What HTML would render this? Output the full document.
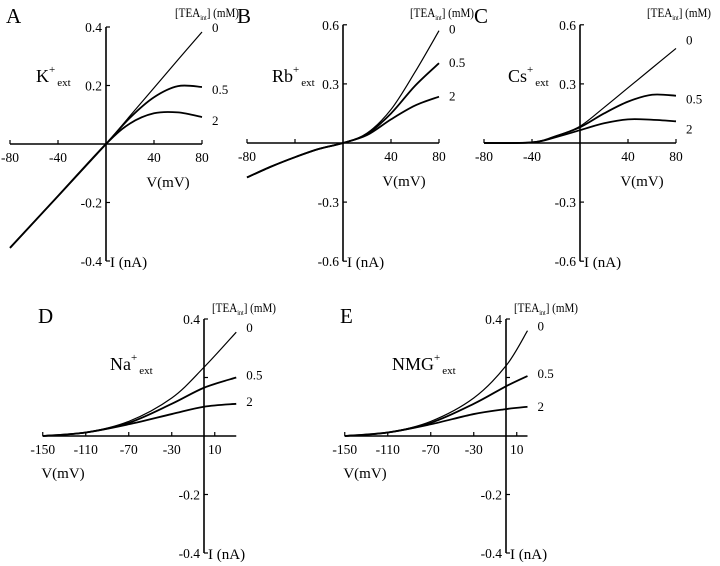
<!DOCTYPE html>
<html><head><meta charset="utf-8"><style>
body{margin:0;background:#fff}
svg{display:block;font-family:"Liberation Serif",serif}
</style></head><body>
<svg id="fig" width="720" height="566" viewBox="0 0 720 566" xmlns="http://www.w3.org/2000/svg"></svg>
<script>
// Voltage samples (mV) and current (nA) per panel / TEA concentration
const vA = [-80,-40,0,20,40,60,80];
const iA0 = [-0.355,-0.178,0,0.096,0.192,0.288,0.383];
const iA05 = [-0.355,-0.178,0,0.09,0.16,0.198,0.195];
const iA2 = [-0.355,-0.178,0,0.07,0.105,0.108,0.092];
const vB = [-80,-60,-40,-20,0,20,40,60,80];
const iB0 = [-0.175,-0.12,-0.072,-0.03,0,0.05,0.17,0.36,0.57];
const iB05 = [-0.175,-0.12,-0.072,-0.03,0,0.045,0.15,0.29,0.405];
const iB2 = [-0.175,-0.12,-0.072,-0.03,0,0.04,0.12,0.19,0.235];
const vC = [-80,-40,-20,0,20,40,60,80];
const iC0 = [0,0.003,0.035,0.085,0.18,0.28,0.38,0.48];
const iC05 = [0,0.003,0.035,0.08,0.15,0.21,0.245,0.24];
const iC2 = [0,0.003,0.03,0.065,0.1,0.12,0.118,0.11];
const vD = [-150,-110,-70,-30,0,30];
const iD0 = [0,0.012,0.05,0.13,0.235,0.355];
const iD05 = [0,0.012,0.045,0.11,0.165,0.2];
const iD2 = [0,0.012,0.04,0.075,0.1,0.11];
const vE = [-150,-110,-70,-30,0,20];
const iE0 = [0,0.012,0.05,0.13,0.24,0.36];
const iE05 = [0,0.012,0.045,0.11,0.17,0.205];
const iE2 = [0,0.012,0.04,0.075,0.092,0.1];
const tickA = [-80,-40,40,80];
const tickD = [-150,-110,-70,-30,10];

const NS="http://www.w3.org/2000/svg";
const svg=document.getElementById('fig');
function mk(tag,attrs,parent){const e=document.createElementNS(NS,tag);for(const k in attrs)e.setAttribute(k,attrs[k]);(parent||svg).appendChild(e);return e;}
function txt(x,y,s,size,anchor,parent){const t=mk('text',{x:x,y:y,'font-size':size,'text-anchor':anchor||'middle',fill:'#000'},parent);t.textContent=s;return t;}

function panel(p){
  const g=mk('g',{});
  
  
  const sx=v=>p.x0+v*p.kx, sy=i=>p.y0-i*p.ky;
  const xa=mk('line',{x1:sx(p.vmin),x2:sx(p.vmax),y1:p.y0,y2:p.y0,stroke:'#000','stroke-width':1.6},g);
  
  
  p.xt.forEach(v=>{mk('line',{x1:sx(v),x2:sx(v),y1:p.y0,y2:p.y0-4,stroke:'#000','stroke-width':1.2},g);
    if(p.hideX && p.hideX.includes(v)) return;
    const t=txt(sx(v),p.y0+p.xly,String(v),13.5,'middle',g);
    
    });
  const ya=mk('line',{x1:p.x0,x2:p.x0,y1:sy(p.ymax),y2:sy(-p.ymax),stroke:'#000','stroke-width':1.6},g);
  
  
  p.yt.forEach(i=>{mk('line',{x1:p.x0,x2:p.x0+4,y1:sy(i),y2:sy(i),stroke:'#000','stroke-width':1.2},g);
    if(p.yl.includes(i)){const t=txt(p.x0-4,sy(i)+5,String(i),13.5,'end',g);
    
    }});
  p.series.forEach((s,k)=>{
    const pts=s.i.map((c,j)=>[sx(s.v[j]),sy(c)]);
    let d='M'+pts[0][0]+','+pts[0][1];
    for(let j=0;j<pts.length-1;j++){const p0=pts[Math.max(0,j-1)],p1=pts[j],p2=pts[j+1],p3=pts[Math.min(pts.length-1,j+2)];
      d+=' C'+(p1[0]+(p2[0]-p0[0])/6)+','+(p1[1]+(p2[1]-p0[1])/6)+' '+(p2[0]-(p3[0]-p1[0])/6)+','+(p2[1]-(p3[1]-p1[1])/6)+' '+p2[0]+','+p2[1];}
    const path=mk('path',{d:d,fill:'none',stroke:'#000','stroke-width':k==0?1.2:1.8},g);
    
    
    const last=pts[pts.length-1];
    const lb=txt(last[0]+p.lx,last[1]+p.ldy[k],s.name,13,'start',g);
    
    
  });
  const L=txt(p.lx0,p.ly0,p.id,21,'start',g);
  
  
  const ion=mk('text',{x:p.ix,y:p.iy,'font-size':18,fill:'#000'},g);
  ion.innerHTML=p.ion+'<tspan dy="-9" font-size="11">+</tspan><tspan dy="13" dx="2" font-size="11">ext</tspan>';
  
  
  const tea=mk('text',{x:p.tx,y:p.ty,'font-size':12.5,fill:'#000',textLength:64,lengthAdjust:'spacingAndGlyphs'},g);
  tea.innerHTML='[TEA<tspan dy="3" font-size="7">int</tspan><tspan dy="-3">] (mM)</tspan>';
  
  
  const vx=txt(p.vx,p.vy,'V(mV)',15,'middle',g);
  
  
  const iy=txt(p.x0+4,sy(-p.ymax)+6,'I (nA)',15,'start',g);
  
  
}
const common={vmin:-80,vmax:80,xt:tickA,xly:18,lx:10};
panel(Object.assign({},common,{id:'A',x0:106,y0:144,kx:1.2,ky:292.5,ymax:0.4,yt:[0.4,0.2,-0.2,-0.4],yl:[0.4,0.2,-0.2,-0.4],
  series:[{v:vA,i:iA0,name:'0'},{v:vA,i:iA05,name:'0.5'},{v:vA,i:iA2,name:'2'}],ldy:[0,7,8],
  lx0:6,ly0:23,ix:36,iy:82,ion:'K',tx:175,ty:17,vx:168,vy:187}));
panel(Object.assign({},common,{id:'B',x0:343,y0:143,kx:1.2,ky:197,ymax:0.6,yt:[0.6,0.3,-0.3,-0.6],yl:[0.6,0.3,-0.3,-0.6],hideX:[-40],
  series:[{v:vB,i:iB0,name:'0'},{v:vB,i:iB05,name:'0.5'},{v:vB,i:iB2,name:'2'}],ldy:[3,4,4],
  lx0:237,ly0:23,ix:272,iy:82,ion:'Rb',tx:410,ty:17,vx:404,vy:186}));
panel(Object.assign({},common,{id:'C',x0:580,y0:143,kx:1.2,ky:197,ymax:0.6,yt:[0.6,0.3,-0.3,-0.6],yl:[0.6,0.3,-0.3,-0.6],
  series:[{v:vC,i:iC0,name:'0'},{v:vC,i:iC05,name:'0.5'},{v:vC,i:iC2,name:'2'}],ldy:[-4,8,12],
  lx0:474,ly0:23,ix:508,iy:82,ion:'Cs',tx:647,ty:17,vx:642,vy:186}));
const c2={vmin:-150,xt:tickD,xly:18,lx:10,ymax:0.4,yt:[0.4,0.2,-0.2,-0.4],yl:[0.4,-0.2,-0.4],kx:1.075,ky:292.5,y0:436};
panel(Object.assign({},c2,{id:'D',x0:204,vmax:30,
  series:[{v:vD,i:iD0,name:'0'},{v:vD,i:iD05,name:'0.5'},{v:vD,i:iD2,name:'2'}],ldy:[0,2,2],
  lx0:38,ly0:323,ix:110,iy:370,ion:'Na',tx:212,ty:312,vx:63,vy:478}));
panel(Object.assign({},c2,{id:'E',x0:506,vmax:20,
  series:[{v:vE,i:iE0,name:'0'},{v:vE,i:iE05,name:'0.5'},{v:vE,i:iE2,name:'2'}],ldy:[0,2,4],
  lx0:340,ly0:323,ix:392,iy:370,ion:'NMG',tx:514,ty:312,vx:365,vy:478}));
</script>
</body></html>
